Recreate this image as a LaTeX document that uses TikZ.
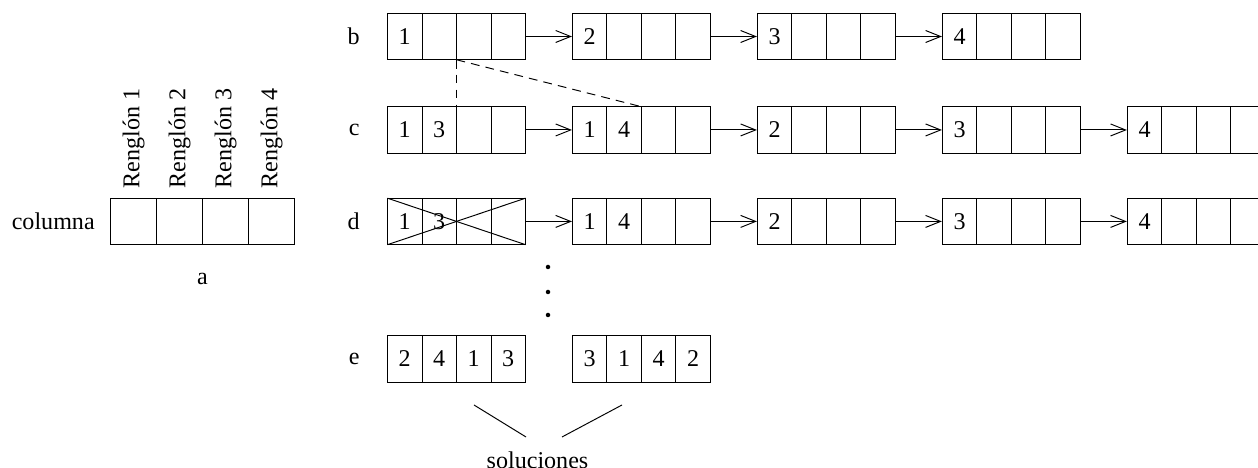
\documentclass[tikz,border=0pt]{standalone}
\usepackage{fontspec}
\setmainfont{Liberation Serif}
\usetikzlibrary{matrix,positioning,arrows.meta}

\begin{document}
\begin{tikzpicture}[line width=0.55pt,
    font=\fontsize{13.7pt}{16pt}\selectfont]
    \tikzstyle{celda} = [rectangle, draw, minimum width=0.69cm,
               minimum height=0.93cm, inner sep=1pt, anchor=center]
    \tikzstyle{casilla} = [celda, minimum width=0.92cm, minimum height=0.92cm]
    \tikzstyle{registro} = [matrix of nodes, nodes in empty cells,
               nodes=celda, column sep=-\pgflinewidth,
               inner sep=0pt, outer sep=0pt]
    \tikzstyle{flecha} = [draw, -{Straight Barb[length=3mm,width=2.4mm]}]
    \tikzstyle{liga} = [draw, dashed, dash pattern=on 5pt off 3.5pt]

    \useasboundingbox (0,0) rectangle (25.16,9.36);

    % first row: one search step per record
    \matrix [registro, anchor=west] at (7.74,8.63) (b1) { 1 & & & \\ };
    \matrix [registro, right=0.92cm of b1] (b2) { 2 & & & \\ };
    \matrix [registro, right=0.92cm of b2] (b3) { 3 & & & \\ };
    \matrix [registro, right=0.92cm of b3] (b4) { 4 & & & \\ };

    % second row
    \matrix [registro, below=0.92cm of b1] (c1) { 1 & 3 & & \\ };
    \matrix [registro, right=0.92cm of c1] (c2) { 1 & 4 & & \\ };
    \matrix [registro, right=0.92cm of c2] (c3) { 2 & & & \\ };
    \matrix [registro, right=0.92cm of c3] (c4) { 3 & & & \\ };
    \matrix [registro, right=0.92cm of c4] (c5) { 4 & & & \\ };

    % third row, first record is discarded
    \matrix [registro, below=0.88cm of c1] (d1) { 1 & 3 & & \\ };
    \matrix [registro, right=0.92cm of d1] (d2) { 1 & 4 & & \\ };
    \matrix [registro, right=0.92cm of d2] (d3) { 2 & & & \\ };
    \matrix [registro, right=0.92cm of d3] (d4) { 3 & & & \\ };
    \matrix [registro, right=0.92cm of d4] (d5) { 4 & & & \\ };

    % solutions
    \matrix [registro, below=1.8cm of d1] (e1) { 2 & 4 & 1 & 3 \\ };
    \matrix [registro, right=0.92cm of e1] (e2) { 3 & 1 & 4 & 2 \\ };

    % the column itself
    \matrix [registro, nodes=casilla, left=1.84cm of d1] (a) { & & & \\ };
    \foreach \i in {1,...,4}
      \node [rotate=90, anchor=west, xshift=0.08cm] at (a-1-\i.north) {Renglón \i};
    \node [left=0.18cm of a] (columna) {columna};
    \node [below=0.44cm of a] (la) {a};

    % row labels
    \node [left=0.42cm of b1] (lb) {b};
    \node [left=0.42cm of c1] (lc) {c};
    \node [left=0.42cm of d1] (ld) {d};
    \node [left=0.42cm of e1] (le) {e};

    % links between records
    \foreach \u/\v in {b1/b2,b2/b3,b3/b4,c1/c2,c2/c3,c3/c4,c4/c5,d1/d2,d2/d3,d3/d4,d4/d5}
      \path [flecha] (\u) -- (\v);

    \path [liga] (b1-1-3.south west) -- (c1-1-3.north west);
    \path [liga] (b1-1-3.south west) -- (c2-1-3.north west);

    % cross out the dead end
    \draw (d1-1-1.north west) -- (d1-1-4.south east);
    \draw (d1-1-1.south west) -- (d1-1-4.north east);

    % dots
    \foreach \y in {4.02,3.52,3.06}
      \fill (10.96,\y) circle (0.045);

    \node [anchor=base] (sol) at (10.75,-0.02) {soluciones};
    \coordinate (s1) at (9.48,1.26);
    \coordinate (s2) at (10.52,0.62);
    \coordinate (s3) at (12.44,1.26);
    \coordinate (s4) at (11.24,0.62);
    \draw (s1) -- (s2);
    \draw (s3) -- (s4);
\end{tikzpicture}
\end{document}
